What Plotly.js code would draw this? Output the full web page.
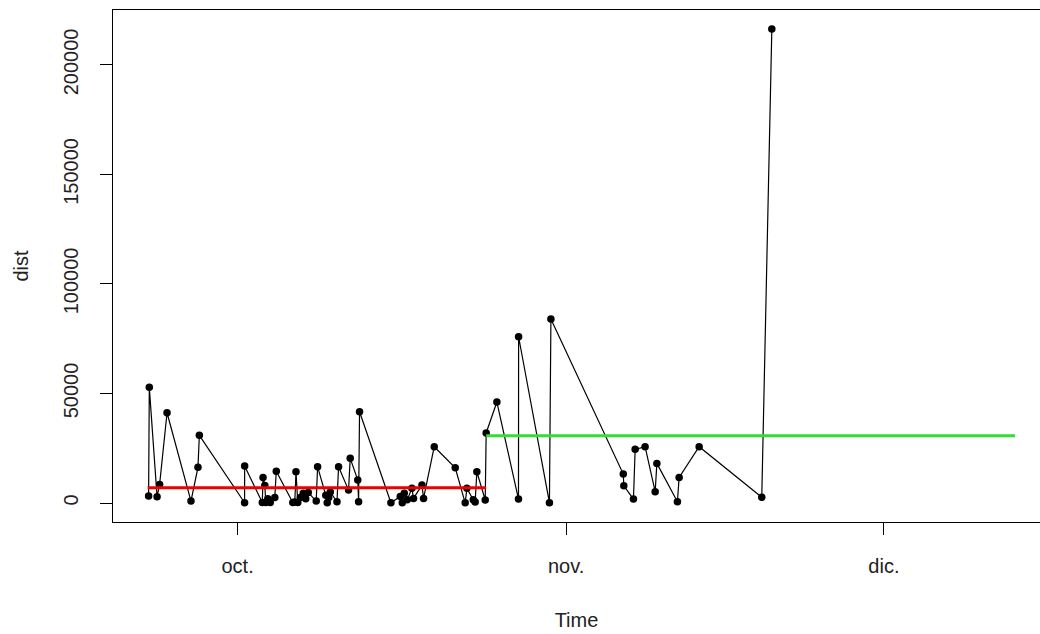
<!DOCTYPE html>
<html>
<head>
<meta charset="utf-8">
<script src="https://cdn.plot.ly/plotly-3.0.1.min.js"></script>
<style>html,body{margin:0;padding:0;background:#fff;}#chart{width:1040px;height:634px;}</style>
</head>
<body>
<div id="chart"></div>
<script>
// Observation times and distances
const times = [
  "2019-09-22 14:24","2019-09-22 16:00","2019-09-23 09:36","2019-09-23 15:22","2019-09-24 08:10",
  "2019-09-26 14:24","2019-09-27 06:14","2019-09-27 09:22","2019-10-01 15:50","2019-10-01 16:00",
  "2019-10-03 07:55","2019-10-03 09:36","2019-10-03 13:40","2019-10-03 15:50","2019-10-03 20:24",
  "2019-10-04 02:00","2019-10-04 12:14","2019-10-04 15:36","2019-10-06 05:02","2019-10-06 09:36",
  "2019-10-06 12:14","2019-10-06 16:19","2019-10-06 22:00","2019-10-07 04:48","2019-10-07 10:19",
  "2019-10-07 16:05","2019-10-08 10:05","2019-10-08 13:12","2019-10-09 07:41","2019-10-09 11:02",
  "2019-10-09 14:24","2019-10-09 18:00","2019-10-10 09:07","2019-10-10 12:43","2019-10-11 11:17",
  "2019-10-11 15:07","2019-10-12 08:10","2019-10-12 10:05","2019-10-12 12:14","2019-10-15 11:17",
  "2019-10-16 08:24","2019-10-16 12:58","2019-10-16 17:31","2019-10-17 00:14","2019-10-17 10:48",
  "2019-10-17 14:24","2019-10-18 09:36","2019-10-18 13:12","2019-10-19 13:26","2019-10-21 12:58",
  "2019-10-22 11:31","2019-10-22 15:22","2019-10-23 05:46","2019-10-23 10:05","2019-10-23 13:55",
  "2019-10-24 08:53","2019-10-24 11:02","2019-10-25 11:17","2019-10-27 12:14","2019-10-27 12:30",
  "2019-10-30 10:19","2019-10-30 13:41","2019-11-06 09:36","2019-11-06 10:48","2019-11-07 08:38",
  "2019-11-07 12:29","2019-11-08 11:02","2019-11-09 09:50","2019-11-09 13:41","2019-11-11 12:14",
  "2019-11-11 16:05","2019-11-13 13:26","2019-11-19 11:17","2019-11-20 10:05"
];
const dist = [
  3200, 52800, 2900, 8500, 41200,
  900, 16300, 30900, 150, 16900,
  200, 11700, 8000, 200, 2000,
  300, 2500, 14500, 200, 500,
  14300, 200, 2500, 4500, 2000,
  4800, 900, 16600, 3500, 100,
  2500, 5000, 600, 16600, 5900,
  20400, 10500, 600, 41700, 100,
  3000, 100, 4500, 1500, 6700,
  2100, 8200, 2100, 25700, 16100,
  100, 6700, 1500, 500, 14300,
  1400, 32000, 46100, 1800, 75900,
  150, 84000, 13200, 7900, 1800,
  24500, 25700, 5200, 18100, 600,
  11700, 25700, 2600, 216400
];
// Segment means (before / after the change point)
const seg1Times = ["2019-09-22 12:14", "2019-10-24 11:02"];
const seg1Mean = [7000, 7000];
const seg2Times = ["2019-10-24 11:02", "2019-12-13 08:53"];
const seg2Mean = [30700, 30700];
// Axis ticks
const xTickVals = ["2019-10-01", "2019-11-01", "2019-12-01"];
const xTickText = ["oct.", "nov.", "dic."];
const yTickVals = [0, 50000, 100000, 150000, 200000];

const font = {family: "Liberation Sans, Arial, sans-serif", size: 20, color: "#222"};

const traces = [
  {x: times, y: dist, type: "scatter", mode: "lines+markers",
   line: {color: "#000", width: 1.2}, marker: {color: "#000", size: 7.5}, showlegend: false, hoverinfo: "x+y"},
  {x: seg1Times, y: seg1Mean, type: "scatter", mode: "lines",
   line: {color: "#ee0000", width: 3}, showlegend: false},
  {x: seg2Times, y: seg2Mean, type: "scatter", mode: "lines",
   line: {color: "#33dd33", width: 3}, showlegend: false}
];

const layout = {
  width: 1040, height: 634,
  margin: {l: 113, r: 0, t: 10, b: 112},
  paper_bgcolor: "#fff", plot_bgcolor: "#fff",
  font: font,
  showlegend: false,
  xaxis: {
    type: "date",
    range: ["2019-09-19 05:46", "2019-12-15 17:31"],
    tickmode: "array", tickvals: xTickVals, ticktext: xTickText,
    ticks: "outside", ticklen: 12, tickwidth: 1, tickcolor: "#000",
    ticklabelstandoff: 14,
    showgrid: false, zeroline: false,
    showline: true, mirror: true, linecolor: "#000", linewidth: 1.3,
    tickfont: font,
    title: {text: "Time", font: font, standoff: 36}
  },
  yaxis: {
    range: [-8656, 225056],
    tickmode: "array", tickvals: yTickVals, tickformat: "d",
    tickangle: -90,
    ticks: "outside", ticklen: 12, tickwidth: 1, tickcolor: "#000",
    ticklabelstandoff: 14,
    showgrid: false, zeroline: false,
    showline: true, mirror: false, linecolor: "#000", linewidth: 1.3,
    tickfont: font,
    title: {text: "dist", font: font, standoff: 25}
  }
};

Plotly.newPlot("chart", traces, layout, {displayModeBar: false, staticPlot: true});
</script>
</body>
</html>
